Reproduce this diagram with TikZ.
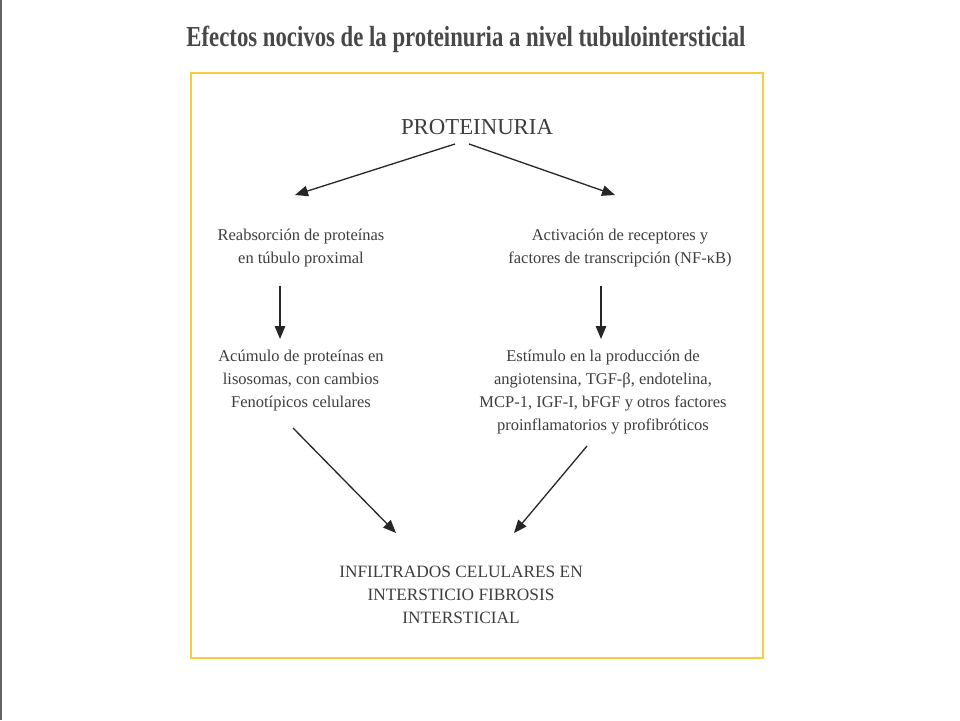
\documentclass[tikz,border=0pt]{standalone}
\usepackage{fontspec}
\setmainfont{Liberation Serif}
\usetikzlibrary{arrows.meta}
\definecolor{txt}{RGB}{62,62,62}
\definecolor{ttl}{RGB}{72,72,72}
\definecolor{frame}{RGB}{248,204,60}
\definecolor{edge}{RGB}{100,100,100}
\tikzset{
  body/.style={text=txt, align=center, inner sep=0pt, font=\fontsize{16.5}{23}\selectfont},
  arr/.style={-{Triangle[length=13pt,width=10.5pt]}, line width=1.3pt, draw=black!85},
}
\begin{document}
\begin{tikzpicture}[x=1pt,y=-1pt]
\useasboundingbox (0,0) rectangle (960,720);
\fill[white] (0,0) rectangle (960,720);
\draw[edge, line width=2pt] (1,0) -- (1,720);
\node (title) at (466,39) [text=ttl, inner sep=0pt, font=\bfseries\fontsize{29}{32}\selectfont] {\resizebox{559pt}{\height}{Efectos nocivos de la proteinuria a nivel tubulointersticial}};
\draw[frame, line width=2pt] (191,73) rectangle (763,658);
\node (prot) at (477,127) [text=txt, inner sep=0pt, font=\fontsize{22.8}{26}\selectfont] {PROTEINURIA};
\node (reab) at (301,248) [body] {Reabsorción de proteínas\\en túbulo proximal};
\node (activ) at (620,248) [body] {Activación de receptores y\\factores de transcripción (NF-κB)};
\node (acum) at (301,381) [body] {Acúmulo de proteínas en\\lisosomas, con cambios\\Fenotípicos celulares};
\node (estim) at (603,392) [body] {Estímulo en la producción de\\angiotensina, TGF-β, endotelina,\\MCP-1, IGF-I, bFGF y otros factores\\proinflamatorios y profibróticos};
\node (infil) at (461,595) [body, font=\fontsize{17.3}{23}\selectfont] {INFILTRADOS CELULARES EN\\INTERSTICIO FIBROSIS\\INTERSTICIAL};
\coordinate (p1) at (455,144);
\coordinate (p2) at (469,144);
\coordinate (r1) at (295,195);
\coordinate (a1) at (615,195);
\coordinate (r2) at (280,286);
\coordinate (r3) at (280,339);
\coordinate (a2) at (601,286);
\coordinate (a3) at (601,339);
\coordinate (c1) at (293,428);
\coordinate (i1) at (396,533);
\coordinate (e1) at (587,446);
\coordinate (i2) at (514,533);
\draw[arr] (p1) -- (r1);
\draw[arr] (p2) -- (a1);
\draw[arr] (r2) -- (r3);
\draw[arr] (a2) -- (a3);
\draw[arr] (c1) -- (i1);
\draw[arr] (e1) -- (i2);
\end{tikzpicture}
\end{document}
